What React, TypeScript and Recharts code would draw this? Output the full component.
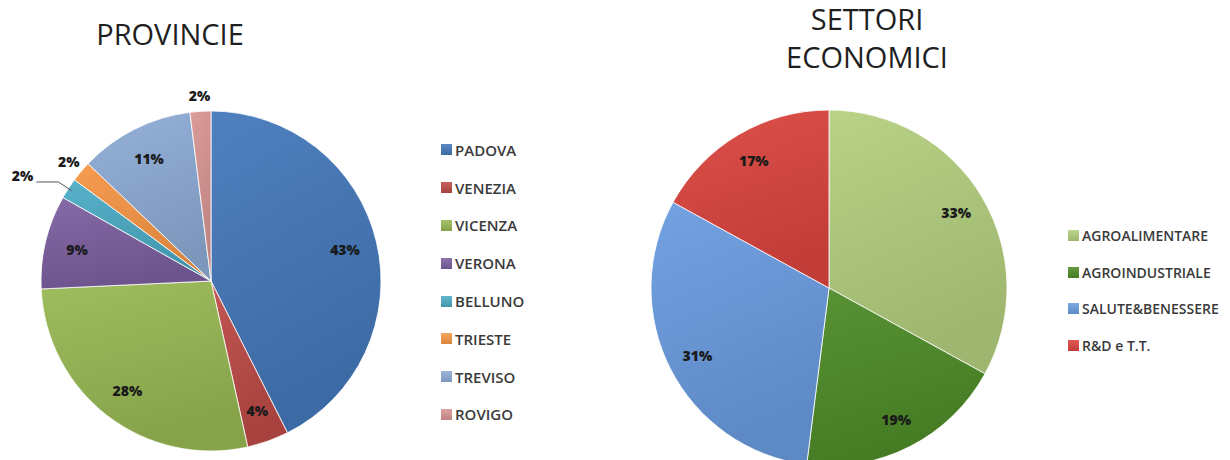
import { PieChart, Pie, Cell, Legend } from 'recharts';

const provinceNames = ['PADOVA', 'VENEZIA', 'VICENZA', 'VERONA', 'BELLUNO', 'TRIESTE', 'TREVISO', 'ROVIGO'];
const provinceValues = [43, 4, 28, 9, 2, 2, 11, 2];
const provinceColors = ['#4478BA', '#BE4B48', '#98B954', '#7D60A0', '#4BACC6', '#F79646', '#8EACD6', '#D99694'];

const sectorNames = ['AGROALIMENTARE', 'AGROINDUSTRIALE', 'SALUTE&BENESSERE', 'R&D e T.T.'];
const sectorValues = [33, 19, 31, 17];
const sectorColors = ['#B3CF7E', '#4E8C28', '#6A9CE0', '#DC4540'];

// small slices whose label sits outside the pie; leader = outside with a line
const outsideLabels = ['ROVIGO', 'TRIESTE'];
const leaderLabels = ['BELLUNO'];

const provinceData = provinceNames.map((name, i) => ({ name, value: provinceValues[i] }));
const sectorData = sectorNames.map((name, i) => ({ name, value: sectorValues[i] }));

const RAD = Math.PI / 180;
const FONT = '"Open Sans", "Noto Sans", sans-serif';

function shade(hex: string, amt: number) {
  const n = parseInt(hex.slice(1), 16);
  const mix = (c: number) => {
    const t = amt < 0 ? 0 : 255;
    const v = Math.round(c + (t - c) * Math.abs(amt));
    return Math.max(0, Math.min(255, v));
  };
  const r = mix((n >> 16) & 255);
  const g = mix((n >> 8) & 255);
  const b = mix(n & 255);
  return '#' + ((r << 16) | (g << 8) | b).toString(16).padStart(6, '0');
}

function Gradients({ id, colors }: { id: string; colors: string[] }) {
  return (
    <defs>
      {colors.map((c, i) => (
        <linearGradient key={i} id={`${id}${i}`} x1="0" y1="0" x2="0.3" y2="1">
          <stop offset="0%" stopColor={shade(c, 0.06)} />
          <stop offset="100%" stopColor={shade(c, -0.12)} />
        </linearGradient>
      ))}
    </defs>
  );
}

function makeLabel(ratio: number) {
  return (props: any) => {
    const { cx, cy, midAngle, outerRadius, value, name } = props;
    const cos = Math.cos(-midAngle * RAD);
    const sin = Math.sin(-midAngle * RAD);
    const style = { fontFamily: FONT, fontSize: 14, fontWeight: 800, fill: '#1a1a1a' };
    if (leaderLabels.includes(name)) {
      const sx = cx + (outerRadius - 4) * cos;
      const sy = cy + (outerRadius - 4) * sin;
      const mx = cx + (outerRadius + 12) * cos;
      const my = cy + (outerRadius + 12) * sin;
      const ex = mx - 22;
      return (
        <g>
          <path d={`M${sx},${sy}L${mx},${my}L${ex},${my}`} stroke="#555" strokeWidth={1} fill="none" />
          <text x={ex - 3} y={my - 6} textAnchor="end" dominantBaseline="central" style={style}>
            {`${value}%`}
          </text>
        </g>
      );
    }
    const r = outsideLabels.includes(name) ? outerRadius + 16 : outerRadius * ratio;
    return (
      <text x={cx + r * cos} y={cy + r * sin} textAnchor="middle" dominantBaseline="central" style={style}>
        {`${value}%`}
      </text>
    );
  };
}

function LegendList({ names, colors, gap, fontSize }: { names: string[]; colors: string[]; gap: number; fontSize: number }) {
  return (
    <div style={{ fontFamily: FONT }}>
      {names.map((n, i) => (
        <div key={n} style={{ height: gap, display: 'flex', alignItems: 'center' }}>
          <span
            style={{
              width: 11,
              height: 11,
              marginRight: 3,
              background: `linear-gradient(${shade(colors[i], 0.12)}, ${shade(colors[i], -0.12)})`,
              display: 'inline-block',
            }}
          />
          <span style={{ fontSize, fontWeight: 600, color: '#3a3a3a', whiteSpace: 'nowrap' }}>{n}</span>
        </div>
      ))}
    </div>
  );
}

const titleStyle: React.CSSProperties = {
  position: 'absolute',
  fontFamily: FONT,
  fontSize: 29,
  color: '#1f1f1f',
  textAlign: 'center',
  lineHeight: '38px',
};

export default function App() {
  return (
    <div style={{ position: 'fixed', left: 0, top: 0, width: 1230, height: 460, background: '#fff', overflow: 'hidden' }}>
      <div style={{ ...titleStyle, left: 70, width: 200, top: 15 }}>PROVINCIE</div>
      <div style={{ ...titleStyle, left: 767, width: 200, top: 0 }}>
        SETTORI
        <br />
        ECONOMICI
      </div>

      <div style={{ position: 'absolute', left: 0, top: 0 }}>
        <PieChart width={620} height={460}>
          <Gradients id="gp" colors={provinceColors} />
          <Pie
            data={provinceData}
            dataKey="value"
            nameKey="name"
            cx={206}
            cy={276}
            outerRadius={170}
            startAngle={90}
            endAngle={-270}
            stroke="#ffffff"
            strokeWidth={0.8}
            label={makeLabel(0.81)}
            labelLine={false}
            isAnimationActive={false}
          >
            {provinceData.map((d, i) => (
              <Cell key={d.name} fill={`url(#gp${i})`} />
            ))}
          </Pie>
          <Legend
            layout="vertical"
            wrapperStyle={{ left: 441, top: 131, width: 130 }}
            content={() => <LegendList names={provinceNames} colors={provinceColors} gap={37.8} fontSize={15} />}
          />
        </PieChart>
      </div>

      <div style={{ position: 'absolute', left: 620, top: 0 }}>
        <PieChart width={610} height={460}>
          <Gradients id="gs" colors={sectorColors} />
          <Pie
            data={sectorData}
            dataKey="value"
            nameKey="name"
            cx={204}
            cy={283}
            outerRadius={178}
            startAngle={90}
            endAngle={-270}
            stroke="#ffffff"
            strokeWidth={0.8}
            label={makeLabel(0.83)}
            labelLine={false}
            isAnimationActive={false}
          >
            {sectorData.map((d, i) => (
              <Cell key={d.name} fill={`url(#gs${i})`} />
            ))}
          </Pie>
          <Legend
            layout="vertical"
            wrapperStyle={{ left: 448, top: 217, width: 170 }}
            content={() => <LegendList names={sectorNames} colors={sectorColors} gap={36.8} fontSize={14} />}
          />
        </PieChart>
      </div>
    </div>
  );
}
